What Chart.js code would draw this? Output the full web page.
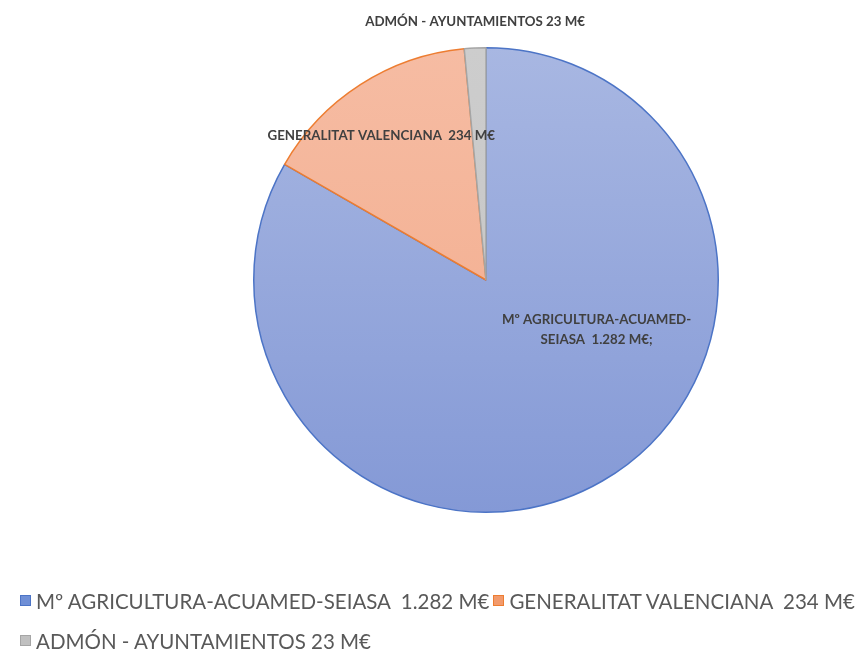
<!DOCTYPE html>
<html>
<head>
<meta charset="utf-8">
<script src="https://cdn.jsdelivr.net/npm/chart.js@4"></script>
<style>
  html, body { margin: 0; padding: 0; background: #fff; }
  #wrap { position: relative; width: 860px; height: 654px; overflow: hidden; }
  #legend {
    position: absolute; left: 20px; top: 589px; width: 840px;
    display: flex; flex-wrap: wrap; row-gap: 17px;
    font-family: Lato, "Open Sans", sans-serif; font-size: 20.5px; color: #595959;
  }
  #legend .item { display: flex; align-items: center; margin-right: 4px; height: 23px; white-space: pre; }
  #legend .box { width: 11px; height: 11px; margin-right: 5px; box-sizing: border-box; border: 1px solid; }
</style>
</head>
<body>
<div id="wrap">
  <canvas id="pie" width="860" height="654"></canvas>
  <div id="legend"></div>
</div>
<script>
// start: Data
const categories = [
  "Mº AGRICULTURA-ACUAMED-SEIASA  1.282 M€",
  "GENERALITAT VALENCIANA  234 M€",
  "ADMÓN - AYUNTAMIENTOS 23 M€"
];
const values = [1282, 234, 23];
const sliceLabels = [
  "Mº AGRICULTURA-ACUAMED-\nSEIASA  1.282 M€;",
  "GENERALITAT VALENCIANA  234 M€",
  "ADMÓN - AYUNTAMIENTOS 23 M€"
];
// end: Data

// start: Style
const fillTop = ["#a8b7e2", "#f6bca3", "#cdcdcd"];
const fillBottom = ["#8499d6", "#f2aa8a", "#c3c3c3"];
const borders = ["#4c74c6", "#ed7d31", "#a5a5a5"];
const legendFill = ["#6f8fd6", "#f29a6c", "#c0c0c0"];
// label anchor relative to pie centre, in units of radius
const labelAnchor = [[0.476, 0.215], [-0.451, -0.622], [-0.047, -1.112]];
// end: Style

// start: Labels
const sliceLabelPlugin = {
  id: "sliceLabels",
  afterDatasetsDraw(chart) {
    const ctx = chart.ctx;
    const arcs = chart.getDatasetMeta(0).data;
    ctx.save();
    ctx.font = "bold 13.3px Lato, 'Open Sans', sans-serif";
    ctx.fillStyle = "#404040";
    ctx.textAlign = "center";
    ctx.textBaseline = "middle";
    arcs.forEach(function (arc, i) {
      const r = arc.outerRadius;
      const cx = arc.x + labelAnchor[i][0] * r;
      const cy = arc.y + labelAnchor[i][1] * r;
      const lines = sliceLabels[i].split("\n");
      const lh = 20;
      lines.forEach(function (line, j) {
        ctx.fillText(line, cx, cy + (j - (lines.length - 1) / 2) * lh);
      });
    });
    ctx.restore();
  }
};
// end: Labels

// start: Chart
const chart = new Chart(document.getElementById("pie"), {
  type: "pie",
  data: {
    labels: categories,
    datasets: [
      {
        data: values,
        backgroundColor: function (c) {
          const area = c.chart.chartArea;
          if (!area) return fillTop[c.dataIndex];
          const g = c.chart.ctx.createLinearGradient(0, area.top, 0, area.bottom);
          g.addColorStop(0, fillTop[c.dataIndex]);
          g.addColorStop(1, fillBottom[c.dataIndex]);
          return g;
        },
        borderColor: borders,
        borderWidth: 1.5,
        hoverOffset: 0,
      },
    ],
  },
  options: {
    responsive: false,
    animation: false,
    layout: { padding: { left: 253, right: 141, top: 47, bottom: 141 } },
    plugins: {
      legend: { display: false },
      tooltip: { enabled: false },
    },
  },
  plugins: [sliceLabelPlugin],
});
// end: Chart

// start: Legend
const legendEl = document.getElementById("legend");
chart.data.labels.forEach(function (label, i) {
  const item = document.createElement("div");
  item.className = "item";
  const box = document.createElement("span");
  box.className = "box";
  box.style.background = legendFill[i];
  box.style.borderColor = borders[i];
  const text = document.createElement("span");
  text.textContent = label;
  item.appendChild(box);
  item.appendChild(text);
  legendEl.appendChild(item);
});
// end: Legend
</script>
</body>
</html>
